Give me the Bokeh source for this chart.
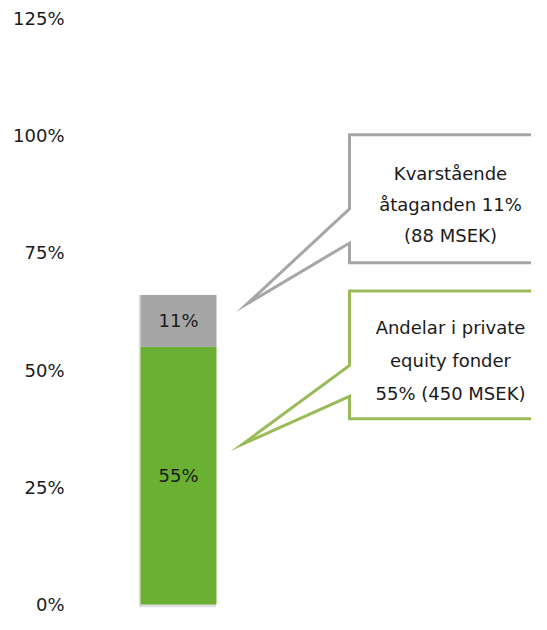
from bokeh.plotting import figure
from bokeh.models import Range1d, FixedTicker, ColumnDataSource
from bokeh.core.properties import value
from bokeh.embed import file_html
from bokeh.resources import INLINE

# ---- data ----
segments = ["Andelar i private equity fonder", "Kvarstående åtaganden"]
shares = [55, 11]                       # percent of total
seg_labels = ["55%", "11%"]
seg_colors = ["#6AB033", "#A6A6A6"]
y_ticks = [0, 25, 50, 75, 100, 125]
y_tick_labels = ["0%", "25%", "50%", "75%", "100%", "125%"]
callout_lines = [
    ["Andelar i private", "equity fonder", "55% (450 MSEK)"],
    ["Kvarstående", "åtaganden 11%", "(88 MSEK)"],
]
callout_colors = ["#9BBB59", "#A6A6A6"]

FONT = "DejaVu Sans"
FS = "18px"

p = figure(width=531, height=614, output_backend="svg", toolbar_location=None,
           x_range=Range1d(0, 4.59), y_range=Range1d(-2.13, 128.84),
           min_border_left=72, min_border_right=0, min_border_top=0,
           min_border_bottom=0)
p.outline_line_color = None
p.background_fill_color = "white"
p.border_fill_color = "white"
p.xgrid.visible = False
p.ygrid.visible = False
p.xaxis.visible = False

ya = p.yaxis[0]
ya.ticker = FixedTicker(ticks=y_ticks)
ya.major_label_overrides = {t: l for t, l in zip(y_ticks, y_tick_labels)}
ya.axis_line_color = None
ya.major_tick_line_color = None
ya.minor_tick_line_color = None
ya.major_tick_out = 0
ya.major_tick_in = 0
ya.major_label_standoff = 8
ya.major_label_text_font = FONT
ya.major_label_text_font_size = FS
ya.major_label_text_color = "#1a1a1a"

# ---- stacked bar ----
bar_x = 1.06
bar_w = 0.76
bottoms, tops = [], []
acc = 0
for s in shares:
    bottoms.append(acc)
    acc += s
    tops.append(acc)
src = ColumnDataSource(dict(x=[bar_x] * len(shares), bottom=bottoms, top=tops,
                            color=seg_colors, label=seg_labels,
                            mid=[(b + t) / 2 for b, t in zip(bottoms, tops)]))
# soft shadow
p.vbar(x=bar_x - 0.012, width=bar_w + 0.01, bottom=-0.6, top=acc,
       fill_color="#000000", fill_alpha=0.12, line_color=None)
p.vbar(x="x", width=bar_w, bottom="bottom", top="top", fill_color="color",
       line_color=None, source=src)
p.text(x="x", y="mid", text="label", source=src, text_align="center",
       text_baseline="middle", text_font=value(FONT), text_font_size=FS,
       text_color="#1a1a1a")

# ---- callouts (layout geometry in data units) ----
box_left = 2.77
box_right = 6.0
geoms = [
    # top, bottom, pointer upper, pointer lower, tip x, tip y, text line ys
    dict(top=66.9, bottom=39.6, up=51.0, lo=44.4, tx=1.70, ty=34.2,
         ys=[59.0, 52.1, 45.0]),
    dict(top=100.2, bottom=72.9, up=84.4, lo=77.1, tx=1.75, ty=64.2,
         ys=[91.9, 85.4, 78.75]),
]
text_x = 3.78
for g, lines, col in zip(geoms, callout_lines, callout_colors):
    xs = [box_left, box_right, box_right, box_left, box_left, g["tx"], box_left, box_left]
    ys = [g["top"], g["top"], g["bottom"], g["bottom"], g["lo"], g["ty"], g["up"], g["top"]]
    p.patch(xs, ys, fill_color="white", line_color=col, line_width=3,
            line_join="miter")
    p.text(x=[text_x] * len(lines), y=g["ys"], text=lines, text_align="center",
           text_baseline="middle", text_font=value(FONT), text_font_size=FS,
           text_color="#1a1a1a")

open("out.html", "w").write(file_html(p, INLINE))
